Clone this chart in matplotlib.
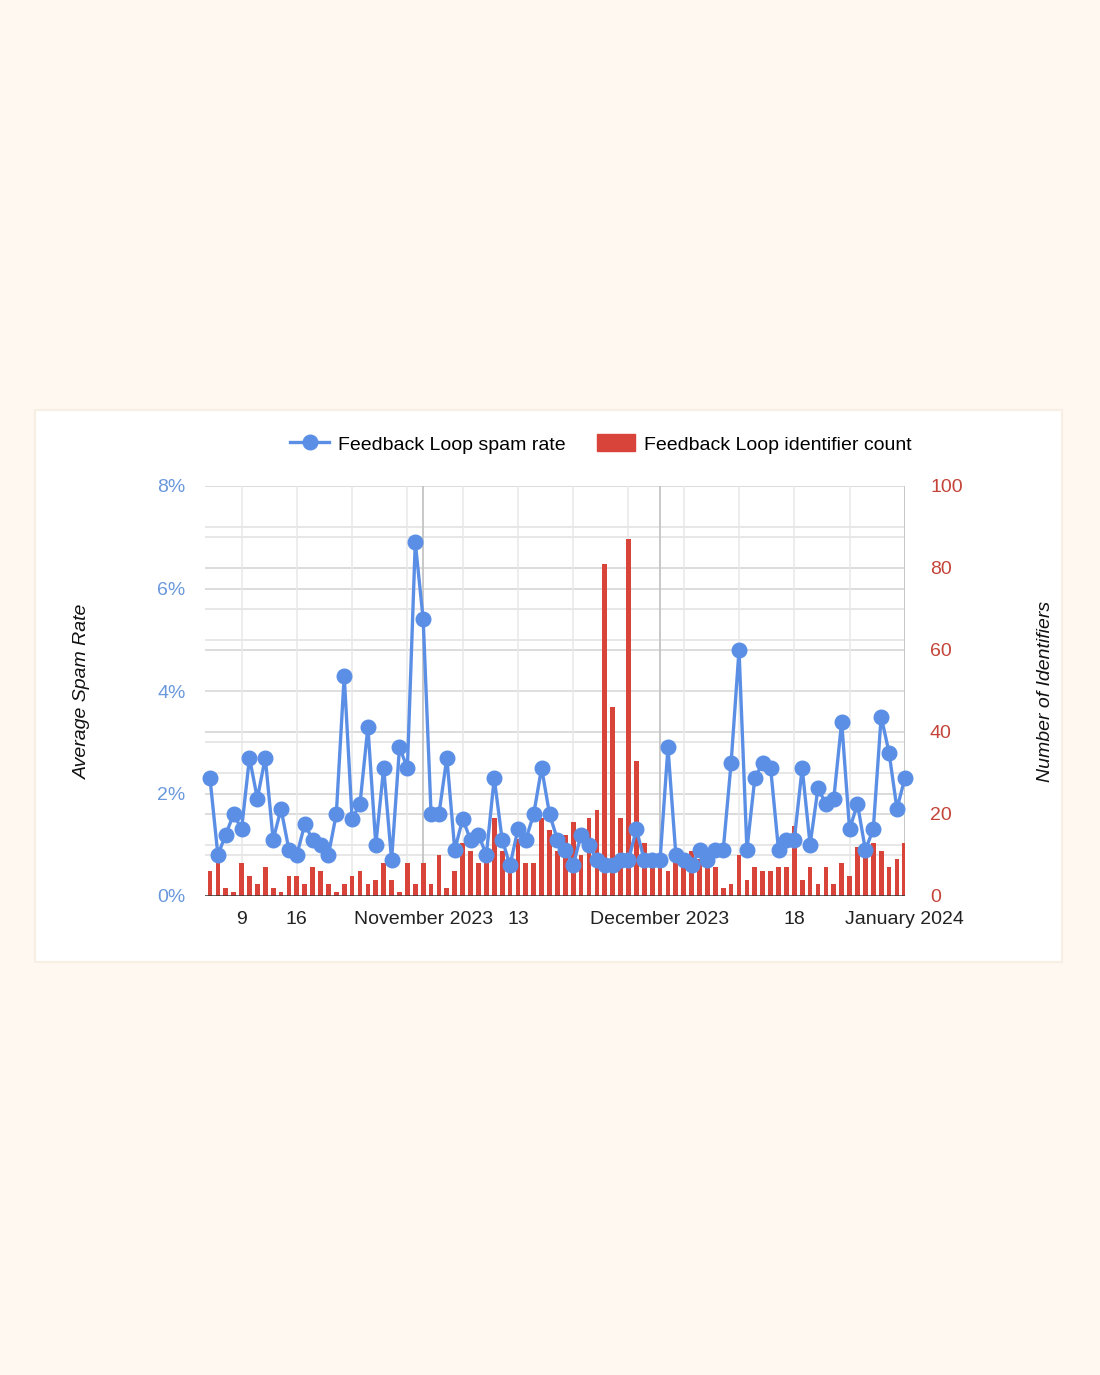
import matplotlib
matplotlib.use("Agg")
import matplotlib.pyplot as plt
import matplotlib.dates as mdates
from matplotlib.lines import Line2D
from matplotlib.patches import Patch, Rectangle
import numpy as np
import pandas as pd

plt.rcParams['font.family'] = ['Liberation Sans', 'DejaVu Sans']

start_date = "2023-10-05"

spam_rate = [2.3, 0.8, 1.2, 1.6, 1.3, 2.7, 1.9, 2.7, 1.1, 1.7,
             0.9, 0.8, 1.4, 1.1, 1.0, 0.8, 1.6, 4.3, 1.5, 1.8,
             3.3, 1.0, 2.5, 0.7, 2.9, 2.5, 6.9, 5.4, 1.6, 1.6,
             2.7, 0.9, 1.5, 1.1, 1.2, 0.8, 2.3, 1.1, 0.6, 1.3,
             1.1, 1.6, 2.5, 1.6, 1.1, 0.9, 0.6, 1.2, 1.0, 0.7,
             0.6, 0.6, 0.7, 0.7, 1.3, 0.7, 0.7, 0.7, 2.9, 0.8,
             0.7, 0.6, 0.9, 0.7, 0.9, 0.9, 2.6, 4.8, 0.9, 2.3,
             2.6, 2.5, 0.9, 1.1, 1.1, 2.5, 1.0, 2.1, 1.8, 1.9,
             3.4, 1.3, 1.8, 0.9, 1.3, 3.5, 2.8, 1.7, 2.3]

identifier_count = [6, 8, 2, 1, 8, 5, 3, 7, 2, 1,
                    5, 5, 3, 7, 6, 3, 1, 3, 5, 6,
                    3, 4, 8, 4, 1, 8, 3, 8, 3, 10,
                    2, 6, 13, 11, 8, 8, 19, 11, 6, 14,
                    8, 8, 19, 16, 11, 15, 18, 10, 19, 21,
                    81, 46, 19, 87, 33, 13, 9, 8, 6, 9,
                    10, 11, 9, 8, 7, 2, 3, 10, 4, 7,
                    6, 6, 7, 7, 17, 4, 7, 3, 7, 3,
                    8, 5, 12, 12, 13, 11, 7, 9, 13]

tick_dates = ["2023-10-09", "2023-10-16", "2023-11-01", "2023-11-13",
              "2023-12-01", "2023-12-18", "2024-01-01"]
tick_labels = ["9", "16", "November 2023", "13", "December 2023", "18", "January 2024"]
week_lines = pd.date_range("2023-10-09", "2023-12-25", freq="7D")
month_lines = ["2023-11-01", "2023-12-01", "2024-01-01"]

left_ticks = [0, 2, 4, 6, 8]
left_labels = ["0%", "2%", "4%", "6%", "8%"]
right_ticks = [0, 20, 40, 60, 80, 100]

BLUE = "#5b8fe6"
RED = "#d9443a"
LBLUE = "#6a98dc"
LRED = "#c4443a"
FS = 14

dates = pd.date_range(start_date, periods=len(spam_rate), freq="D")
xnum = mdates.date2num(dates)

fig = plt.figure(figsize=(11, 13.75), dpi=100)
fig.patch.set_facecolor("#fef8f1")
card = Rectangle((35 / 1100, 1 - 962 / 1375), 1027 / 1100, 552 / 1375,
                 transform=fig.transFigure, facecolor="white",
                 edgecolor="#f7efe4", linewidth=1.5, zorder=-5)
fig.patches.append(card)

ax = fig.add_axes([205 / 1100, 1 - 896 / 1375, 700 / 1100, 410 / 1375])
ax2 = ax.twinx()
ax.set_zorder(2)
ax2.set_zorder(1)
ax.patch.set_visible(False)
ax2.patch.set_visible(False)

# gridlines (drawn on ax2, behind bars)
for k in range(1, 9):
    ax2.axhline(k * 12.5, color="#d2d2d2" if k % 2 == 0 else "#e0e0e0", lw=1.1, zorder=0)
for v in range(10, 100, 10):
    ax2.axhline(v, color="#d2d2d2" if v % 20 == 0 else "#e0e0e0", lw=1.1, zorder=0)
for d in week_lines:
    ax2.axvline(mdates.date2num(d), color="#e8e8e8", lw=1.1, zorder=0)
for d in month_lines:
    ax2.axvline(mdates.date2num(pd.Timestamp(d)), color="#c4c4c4", lw=1.3, zorder=0.5)

ax2.bar(xnum, identifier_count, width=0.6, color=RED, zorder=2)
ax2.axhline(0, color="#333333", lw=1.8, zorder=3)

ax.plot(xnum, spam_rate, color=BLUE, lw=2.4, marker="o", markersize=10.5,
        markerfacecolor=BLUE, markeredgecolor=BLUE, zorder=4, clip_on=False)

x0 = mdates.date2num(pd.Timestamp(start_date)) - 0.63
x1 = mdates.date2num(pd.Timestamp("2024-01-01")) + 0.02
ax.set_xlim(x0, x1)
ax.set_ylim(0, 8)
ax2.set_ylim(0, 100)

ax.set_yticks(left_ticks)
ax.set_yticklabels(left_labels, color=LBLUE, fontsize=FS)
ax2.set_yticks(right_ticks)
ax2.set_yticklabels([str(v) for v in right_ticks], color=LRED, fontsize=FS)
ax.set_xticks([mdates.date2num(pd.Timestamp(d)) for d in tick_dates])
ax.set_xticklabels(tick_labels, fontsize=FS, color="#222222")

ax.tick_params(axis="both", length=0)
ax.tick_params(axis="y", pad=14)
ax.tick_params(axis="x", pad=11)
ax2.tick_params(axis="both", length=0)
ax2.tick_params(axis="y", pad=18)

for a in (ax, ax2):
    for s in a.spines.values():
        s.set_visible(False)

ax.set_ylabel("Average Spam Rate", fontsize=FS, style="italic", color="#111111")
ax.yaxis.set_label_coords(-0.1625, 0.5)
ax2.set_ylabel("Number of Identifiers", fontsize=FS, style="italic", color="#111111")
ax2.yaxis.set_label_coords(1.189, 0.5)

handles = [Line2D([0], [0], color=BLUE, lw=2.4, marker="o", markersize=10.5),
           Patch(facecolor=RED, edgecolor=RED)]
fig.legend(handles, ["Feedback Loop spam rate", "Feedback Loop identifier count"],
           loc="center", bbox_to_anchor=(601 / 1100, 1 - 444 / 1375), ncol=2,
           frameon=False, fontsize=FS, handlelength=2.0, handleheight=0.95,
           columnspacing=1.6, handletextpad=0.45)

fig.savefig("out.png", dpi=100, facecolor=fig.get_facecolor())
